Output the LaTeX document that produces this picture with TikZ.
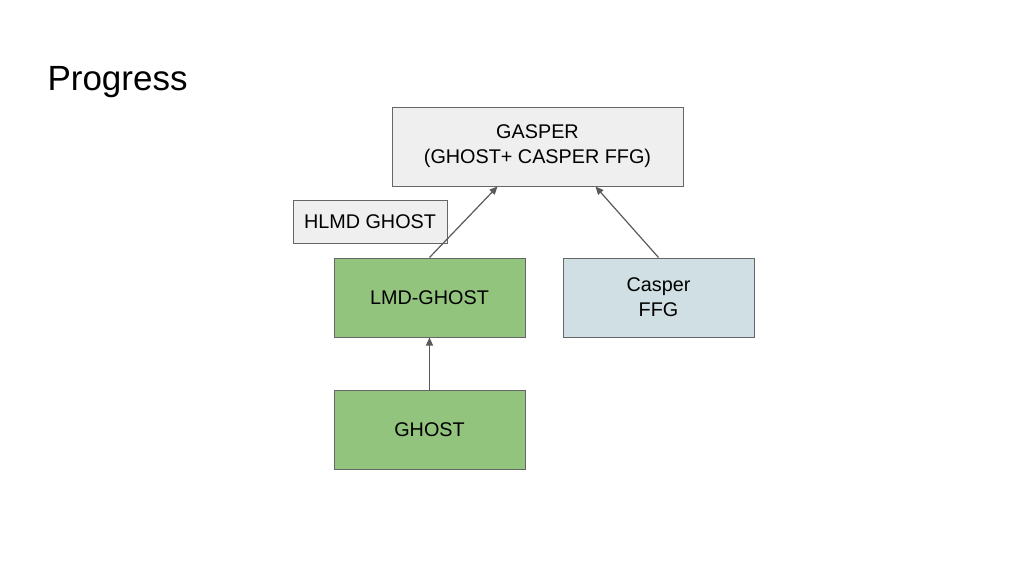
\documentclass[tikz,border=0pt]{standalone}
\usepackage{fontspec}
\setmainfont{Liberation Sans}
\usetikzlibrary{arrows.meta}
\definecolor{boxgray}{HTML}{EFEFEF}
\definecolor{boxgreen}{HTML}{93C47D}
\definecolor{boxblue}{HTML}{D0DFE3}
\definecolor{edgegray}{HTML}{666666}
\definecolor{arrowgray}{HTML}{595959}
\tikzset{
  box/.style={draw=edgegray, line width=1pt, inner sep=0pt, align=center,
    font=\fontsize{19.8}{25}\selectfont, text=black},
  conn/.style={draw=arrowgray, line width=1.2pt, -{Triangle[length=8pt,width=7pt]}},
}
\begin{document}
\begin{tikzpicture}[x=1pt,y=-1pt]
\useasboundingbox (0,0) rectangle (1024,576);
\node[anchor=west, font=\fontsize{35}{40}\selectfont] (title) at (44,82) {Progress};
\node[box, fill=boxgray, minimum width=291pt, minimum height=79pt] (gasper) at (537.5,146.5) {GASPER\\(GHOST+ CASPER FFG)};
\node[box, fill=boxgray, minimum width=154pt, minimum height=43pt] (hlmd) at (370,221.5) {HLMD GHOST};
\node[box, fill=boxgreen, minimum width=191pt, minimum height=79pt] (lmd) at (429.5,297.5) {LMD-GHOST};
\node[box, fill=boxblue, minimum width=191pt, minimum height=79pt] (casper) at (658.5,297.5) {Casper\\FFG};
\node[box, fill=boxgreen, minimum width=191pt, minimum height=79pt] (ghost) at (429.5,429.5) {GHOST};
\draw[conn] (lmd.north) -- ([xshift=106pt]gasper.south west);
\draw[conn] (casper.north) -- ([xshift=204pt]gasper.south west);
\draw[conn] (ghost.north) -- (lmd.south);
\end{tikzpicture}
\end{document}
